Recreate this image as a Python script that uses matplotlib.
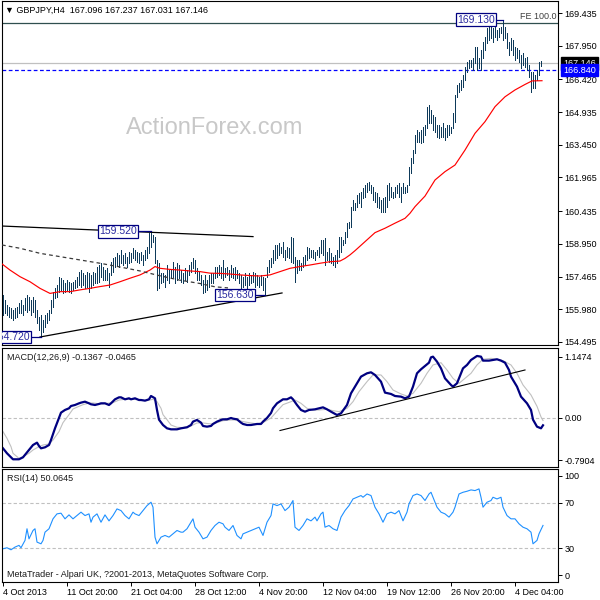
import matplotlib
matplotlib.use("Agg")
import numpy as np
import matplotlib.pyplot as plt
from matplotlib.transforms import blended_transform_factory as blend

plt.rcParams["font.family"] = ["Liberation Sans", "DejaVu Sans"]

# H4 bars, oldest first (high / low)
bar_high = [
    156.63, 156.40, 156.17, 156.10, 156.02, 155.95, 156.02, 156.10, 156.25, 156.40,
    156.17, 156.48, 156.63, 156.55, 156.40, 156.55, 156.40, 155.95, 155.64, 155.72,
    155.49, 155.72, 155.80, 155.95, 156.40, 156.78, 156.93, 157.08, 157.46, 157.39,
    157.31, 157.16, 157.31, 157.23, 157.16, 157.23, 157.31, 157.46, 157.69, 157.76,
    157.61, 157.54, 157.69, 157.61, 157.54, 157.69, 157.61, 157.92, 157.99, 158.07,
    157.92, 157.76, 157.84, 157.61, 158.14, 158.29, 158.37, 158.52, 158.45, 158.67,
    158.45, 158.52, 158.37, 158.60, 158.52, 158.75, 158.67, 158.60, 158.52, 158.60,
    158.45, 158.67, 158.82, 159.43, 159.52, 159.35, 159.28, 158.22, 158.07, 157.61,
    157.61, 157.54, 157.99, 157.76, 157.76, 158.14, 157.92, 158.07, 157.99, 157.76,
    157.61, 157.84, 157.76, 157.99, 158.14, 158.29, 158.22, 157.84, 157.69, 157.54,
    157.31, 157.54, 157.31, 157.54, 157.61, 157.61, 157.92, 157.92, 157.99, 157.92,
    158.22, 157.84, 157.92, 157.76, 157.99, 157.84, 157.92, 157.76, 157.61, 157.54,
    157.46, 157.61, 157.46, 157.61, 157.54, 157.69, 157.61, 157.54, 157.46, 157.54,
    157.46, 157.39, 157.92, 158.22, 158.29, 158.67, 158.90, 158.90, 158.97, 158.82,
    159.05, 158.67, 158.82, 158.75, 159.28, 159.20, 158.37, 158.22, 158.22, 158.07,
    158.37, 158.44, 158.82, 158.75, 158.67, 158.67, 158.60, 158.67, 158.82, 159.13,
    159.13, 159.20, 158.60, 158.75, 158.52, 158.37, 158.45, 158.67, 159.28, 159.28,
    159.13, 159.51, 159.89, 159.96, 160.64, 160.94, 160.79, 161.17, 161.25, 161.32,
    161.47, 161.62, 161.70, 161.78, 161.62, 161.55, 161.32, 161.25, 161.09, 160.94,
    161.02, 161.09, 161.62, 161.70, 161.55, 161.32, 161.55, 161.62, 161.70, 161.55,
    161.70, 161.55, 161.62, 162.46, 162.84, 163.21, 163.90, 164.12, 164.05, 164.12,
    164.27, 164.35, 165.18, 165.26, 165.03, 164.80, 164.73, 164.35, 164.35, 164.27,
    164.42, 164.20, 164.35, 164.35, 164.27, 164.88, 165.71, 166.16, 166.24, 166.39,
    166.62, 167.00, 167.22, 167.30, 167.30, 167.37, 167.90, 167.90, 167.37, 167.75,
    168.13, 168.36, 168.74, 168.97, 168.89, 168.74, 168.89, 168.66, 168.74, 168.81,
    169.13, 168.81, 168.51, 168.13, 168.28, 168.21, 167.90, 167.83, 167.75, 167.53,
    167.60, 167.37, 167.45, 167.07, 166.77, 166.77, 166.62, 166.84, 167.22, 167.237,
]
bar_low = [
    155.72, 155.80, 155.72, 155.64, 155.57, 155.49, 155.57, 155.64, 155.80, 155.80,
    155.72, 155.95, 155.87, 155.95, 155.72, 155.87, 155.64, 155.34, 155.04, 154.72,
    154.96, 155.19, 155.34, 155.49, 155.80, 156.10, 156.48, 156.55, 156.78, 156.86,
    156.70, 156.78, 156.86, 156.78, 156.70, 156.86, 156.93, 157.01, 157.08, 157.01,
    157.08, 156.93, 157.01, 156.78, 156.93, 157.08, 157.16, 157.16, 157.23, 157.46,
    157.31, 157.31, 157.31, 157.01, 157.54, 157.69, 157.92, 157.99, 157.92, 158.07,
    157.99, 158.07, 157.92, 158.07, 158.14, 158.29, 158.22, 158.14, 158.07, 158.22,
    157.99, 158.22, 158.29, 158.52, 158.82, 159.05, 158.07, 156.86, 156.93, 157.16,
    157.23, 157.01, 157.31, 157.16, 157.39, 157.46, 157.16, 157.31, 157.39, 157.23,
    157.16, 157.31, 157.23, 157.54, 157.69, 157.84, 157.61, 157.31, 157.31, 157.08,
    156.70, 156.78, 156.86, 157.01, 157.16, 157.16, 157.39, 157.46, 157.54, 157.39,
    157.31, 157.46, 157.54, 157.31, 157.46, 157.39, 157.31, 157.39, 157.16, 156.93,
    157.01, 157.08, 156.93, 157.08, 157.16, 157.23, 157.01, 157.08, 157.01, 157.08,
    156.86, 156.63, 157.46, 157.69, 157.92, 158.07, 158.22, 158.29, 158.44, 158.52,
    158.37, 158.22, 158.37, 158.29, 158.14, 158.07, 157.23, 157.61, 157.76, 157.76,
    157.92, 157.99, 158.22, 158.29, 158.37, 158.29, 158.22, 158.45, 158.37, 158.52,
    158.45, 157.99, 158.22, 158.14, 158.07, 157.99, 157.92, 158.07, 158.37, 158.60,
    158.90, 158.98, 159.28, 159.66, 159.73, 160.49, 160.49, 160.64, 160.79, 160.64,
    161.02, 161.10, 161.32, 161.40, 161.25, 160.94, 160.87, 160.64, 160.57, 160.41,
    160.41, 160.41, 160.64, 160.94, 161.09, 161.02, 161.09, 161.25, 161.09, 160.87,
    161.25, 161.25, 161.32, 161.62, 162.15, 162.61, 163.06, 163.59, 163.59, 163.52,
    163.59, 163.90, 164.20, 164.42, 164.42, 164.12, 164.05, 163.82, 163.74, 163.82,
    163.82, 163.67, 163.82, 163.89, 163.97, 164.20, 164.50, 165.63, 165.86, 165.94,
    166.09, 166.39, 166.77, 166.92, 167.00, 166.84, 167.15, 166.84, 166.92, 166.84,
    167.37, 167.75, 168.06, 168.21, 168.28, 168.13, 168.36, 168.21, 168.36, 168.51,
    168.21, 168.28, 167.83, 167.53, 167.75, 167.53, 167.30, 167.37, 167.22, 166.92,
    167.07, 167.00, 166.84, 166.54, 165.86, 166.01, 166.01, 166.39, 166.62, 167.031,
]

# moving averages (bar index, price)
ma_red = [
    (-0.5, 158.04), (3.5, 157.76), (8.5, 157.46), (13.5, 157.23), (18.5, 156.93),
    (23.5, 156.70), (28.5, 156.78), (33.5, 156.78), (38.5, 156.86), (43.5, 156.93),
    (48.5, 157.01), (53.5, 157.08), (58.5, 157.23), (63.5, 157.39), (68.5, 157.54),
    (73.5, 157.76), (76, 157.92), (78.5, 157.84), (83.5, 157.79), (88.5, 157.76),
    (93.5, 157.72), (98.5, 157.69), (103.5, 157.62), (108.5, 157.61), (113.5, 157.58),
    (118.5, 157.54), (123.5, 157.51), (128.5, 157.49), (133.5, 157.54), (138.5, 157.69),
    (143.5, 157.84), (148.5, 157.92), (153.5, 157.99), (158.5, 158.07), (163.5, 158.14),
    (168.5, 158.17), (171, 158.29), (173.5, 158.45), (176, 158.64), (181, 159.05),
    (186, 159.46), (191, 159.66), (196, 159.89), (201, 160.11), (203.5, 160.34),
    (206, 160.64), (211, 161.12), (216, 161.85), (221, 162.23), (226, 162.53),
    (231, 163.21), (236, 163.97), (241, 164.50), (246, 165.18), (251, 165.63),
    (256, 165.94), (261, 166.19), (264.5, 166.35), (269.5, 166.36),
]
ma_dash = [
    (-0.5, 158.90), (8.5, 158.75), (18.5, 158.52), (28.5, 158.37), (38.5, 158.22),
    (48.5, 158.07), (58.5, 157.90), (68.5, 157.72), (78.5, 157.50), (88.5, 157.30),
    (98.5, 157.15), (106, 157.00), (112.5, 156.95),
]

# MACD(12,26,9): main and signal (bar index, value)
macd_main = [
    (0, -0.567), (2, -0.660), (4, -0.735), (5, -0.772), (8, -0.772), (10, -0.735),
    (13, -0.598), (15, -0.505), (17, -0.461), (18, -0.523), (19, -0.567), (21, -0.548),
    (23, -0.505), (24, -0.411), (26, -0.193), (28, 0.0), (29, 0.100), (31, 0.150),
    (33, 0.181), (34, 0.224), (36, 0.243), (38, 0.274), (39, 0.287), (41, 0.305),
    (43, 0.274), (44, 0.256), (46, 0.243), (48, 0.262), (49, 0.274), (51, 0.274),
    (53, 0.243), (54, 0.274), (56, 0.349), (58, 0.386), (59, 0.386), (61, 0.349),
    (63, 0.368), (64, 0.349), (66, 0.368), (68, 0.336), (69, 0.336), (71, 0.324),
    (73, 0.349), (74, 0.411), (76, 0.368), (77, 0.150), (78, -0.031), (80, -0.131),
    (82, -0.193), (84, -0.212), (87, -0.212), (89, -0.193), (92, -0.174), (94, -0.131),
    (95, -0.068), (97, -0.037), (99, -0.087), (100, -0.149), (102, -0.162), (104, -0.149),
    (105, -0.112), (107, -0.068), (109, -0.037), (110, -0.025), (112, -0.025), (114, 0.0),
    (115, -0.012), (117, -0.025), (119, -0.087), (120, -0.112), (122, -0.131), (124, -0.131),
    (127, -0.112), (129, -0.112), (130, -0.068), (132, 0.0), (134, 0.093), (135, 0.181),
    (137, 0.274), (139, 0.324), (140, 0.349), (142, 0.349), (144, 0.386), (145, 0.349),
    (147, 0.243), (149, 0.150), (151, 0.118), (153, 0.150), (156, 0.162), (158, 0.181),
    (160, 0.199), (162, 0.162), (164, 0.118), (167, 0.056), (169, 0.087), (172, 0.243),
    (174, 0.461), (177, 0.648), (179, 0.773), (182, 0.835), (184, 0.854), (186, 0.804),
    (189, 0.679), (191, 0.474), (194, 0.449), (196, 0.411), (199, 0.399), (201, 0.368),
    (203, 0.399), (205, 0.586), (207, 0.835), (209, 0.910), (211, 0.972), (213, 1.034),
    (214, 1.134), (215, 1.146), (217, 1.053), (219, 0.928), (221, 0.741), (224, 0.617),
    (225, 0.586), (227, 0.648), (229, 0.835), (230, 0.928), (232, 0.991), (234, 1.084),
    (237, 1.159), (239, 1.146), (240, 1.072), (243, 1.072), (245, 1.084), (247, 1.097),
    (249, 1.072), (251, 1.034), (253, 0.897), (254, 0.773), (257, 0.586), (259, 0.399),
    (262, 0.274), (264, 0.150), (265, -0.031), (267, -0.162), (269, -0.193), (270, -0.1367),
]
macd_signal = [
    (0, -0.255), (2, -0.380), (4, -0.536), (5, -0.660), (8, -0.754), (10, -0.723),
    (13, -0.660), (15, -0.598), (18, -0.536), (20, -0.505), (23, -0.486), (25, -0.411),
    (28, -0.255), (30, -0.087), (33, 0.062), (35, 0.168), (38, 0.218), (40, 0.249),
    (43, 0.280), (45, 0.280), (49, 0.262), (52, 0.274), (55, 0.287), (58, 0.336),
    (62, 0.355), (65, 0.349), (69, 0.336), (72, 0.324), (75, 0.349), (77, 0.305),
    (79, 0.181), (80, 0.062), (82, -0.031), (84, -0.131), (87, -0.174), (90, -0.180),
    (94, -0.149), (97, -0.093), (100, -0.093), (104, -0.112), (107, -0.087), (110, -0.050),
    (114, -0.037), (117, -0.037), (120, -0.068), (124, -0.093), (127, -0.112), (130, -0.087),
    (134, 0.0), (137, 0.125), (140, 0.249), (144, 0.305), (146, 0.336), (149, 0.274),
    (152, 0.181), (155, 0.150), (158, 0.150), (162, 0.162), (165, 0.137), (168, 0.118),
    (172, 0.181), (175, 0.305), (178, 0.492), (182, 0.679), (185, 0.804), (189, 0.804),
    (192, 0.679), (195, 0.523), (199, 0.449), (202, 0.411), (205, 0.461), (209, 0.648),
    (212, 0.835), (215, 0.991), (219, 1.034), (222, 0.897), (225, 0.741), (228, 0.648),
    (230, 0.710), (234, 0.835), (237, 0.991), (240, 1.097), (244, 1.115), (247, 1.097),
    (250, 1.072), (254, 0.991), (257, 0.835), (260, 0.617), (264, 0.430), (267, 0.218),
    (269, 0.020), (270, -0.0465),
]

# RSI(14) (bar index, value)
rsi = [
    (0, 29.4), (2, 30.3), (4, 28.5), (6, 30.9), (8, 32.4), (9, 30.3), (11, 36.8), (12, 47.1),
    (13, 38.2), (15, 45.6), (16, 47.1), (17, 35.3), (19, 33.8), (20, 36.8), (21, 44.1),
    (23, 47.1), (25, 55.9), (27, 60.3), (29, 60.9), (31, 55.9), (33, 59.4), (35, 55.9),
    (37, 58.8), (39, 61.8), (41, 58.8), (43, 60.3), (44, 52.9), (45, 57.4), (47, 60.3),
    (49, 52.9), (51, 59.4), (53, 54.1), (55, 58.8), (57, 64.7), (59, 63.2), (61, 58.8),
    (63, 55.9), (65, 61.8), (66, 60.3), (68, 58.8), (70, 63.2), (72, 67.6), (74, 70.6),
    (75, 66.2), (76, 39.7), (77, 33.8), (79, 39.7), (81, 41.2), (83, 39.7), (85, 42.6),
    (87, 45.6), (89, 44.1), (90, 44.1), (92, 47.1), (94, 52.9), (95, 55.9), (96, 48.5),
    (98, 44.1), (100, 38.2), (102, 39.7), (104, 45.6), (106, 50.0), (108, 52.9), (110, 51.5),
    (111, 48.5), (113, 45.6), (115, 50.0), (117, 41.2), (119, 38.2), (120, 42.6), (122, 44.1),
    (124, 45.6), (126, 47.1), (128, 48.5), (130, 41.2), (132, 52.9), (134, 58.8), (135, 69.1),
    (137, 67.6), (139, 69.1), (141, 63.2), (143, 66.2), (145, 72.1), (146, 48.5), (148, 45.6),
    (150, 50.0), (152, 55.9), (154, 54.1), (156, 57.4), (157, 54.1), (159, 60.3), (160, 61.8),
    (161, 48.5), (163, 50.0), (165, 47.1), (167, 45.6), (169, 57.4), (171, 63.2), (173, 67.6),
    (175, 73.5), (177, 75.0), (179, 76.5), (180, 75.0), (182, 77.9), (184, 76.5), (186, 66.2),
    (188, 60.3), (190, 52.9), (192, 60.3), (194, 61.8), (196, 60.3), (198, 63.2), (200, 54.1),
    (202, 61.8), (203, 69.1), (205, 76.5), (207, 77.9), (209, 76.5), (211, 72.1), (213, 77.9),
    (214, 79.4), (215, 75.0), (217, 66.2), (219, 61.8), (221, 60.3), (223, 57.4), (225, 61.8),
    (226, 66.2), (228, 77.9), (230, 79.4), (232, 80.3), (234, 81.5), (236, 80.9), (238, 82.4),
    (239, 75.0), (240, 66.2), (242, 70.6), (244, 72.1), (245, 75.0), (247, 73.5), (249, 75.0),
    (250, 66.2), (252, 58.8), (254, 55.9), (256, 55.9), (258, 51.5), (260, 48.5), (262, 47.1),
    (264, 44.1), (265, 33.8), (267, 36.8), (268, 42.6), (270, 50.0645),
]

# drawn objects
upper_line = [(-0.5, 159.76), (125, 159.28)]
lower_line = [(18.5, 154.72), (139.5, 156.72)]
macd_line = [(138.5, -0.234), (261, 0.897)]
# (label, price, bar of the swing, bar where the box ends)
swing_labels = [("159.520", 159.52, 74, 67.5), ("156.630", 156.63, 131, 126),
                ("154.720", 154.72, 19, 14), ("169.130", 169.13, 250, 246.5)]
fe_level = 168.98
bid, ask_line = 167.146, 166.840

price_ticks = [169.435, 167.950, 166.420, 164.935, 163.450, 161.965,
               160.435, 158.950, 157.465, 155.980, 154.495]
macd_ticks = [1.1474, 0.0, -0.7904]
macd_tick_labels = ["1.1474", "0.00", "-0.7904"]
date_ticks = [0, 32, 64, 96, 128, 160, 192, 224, 256]
date_labels = ["4 Oct 2013", "11 Oct 20:00", "21 Oct 04:00", "28 Oct 12:00",
               "4 Nov 20:00", "12 Nov 04:00", "19 Nov 12:00", "26 Nov 20:00",
               "4 Dec 04:00"]

FS = 6.5


def panel(top, bottom):
    return [2 / 600, 1 - bottom / 600, 556 / 600, (bottom - top) / 600]


def style(ax):
    for s in ax.spines.values():
        s.set_linewidth(0.8)
        s.set_color("black")
    ax.set_xlim(-0.5, 277.5)
    ax.yaxis.tick_right()
    ax.tick_params(axis="y", length=3, width=0.7, pad=1.5, labelsize=FS, direction="out")
    ax.tick_params(axis="x", bottom=False, labelbottom=False)


fig = plt.figure(figsize=(6, 6), dpi=100)
ax = fig.add_axes(panel(1, 345))
ax2 = fig.add_axes(panel(348, 467))
ax3 = fig.add_axes(panel(469, 582))
for a in (ax, ax2, ax3):
    style(a)

# ---- price panel
x = np.arange(len(bar_high))
ax.set_ylim(154.357, 169.98)
ax.text(0.383, 0.631, "ActionForex.com", transform=ax.transAxes, ha="center", va="center",
        fontsize=17, color="#c8c8c8", zorder=0)
ax.axhline(bid, color="#c0c0c0", lw=0.9, zorder=1)
ax.axhline(ask_line, color="#0000ff", lw=0.9, dashes=(3, 2), zorder=1)
ax.axhline(fe_level, color="#2f4f4f", lw=0.9, zorder=1)
ax.text(0.997, fe_level + 0.08, "FE 100.0", transform=blend(ax.transAxes, ax.transData),
        ha="right", va="bottom", fontsize=FS, color="#404040")
ax.vlines(x, bar_low, bar_high, colors="#0e3a5a", lw=0.5, antialiased=False, zorder=3)
ax.plot(*zip(*ma_red), color="#ff0000", lw=0.85, zorder=4)
ax.plot(*zip(*ma_dash), color="#3a3a3a", lw=0.9, dashes=(3, 2.5), zorder=4)
ax.plot(*zip(*upper_line), color="black", lw=0.9, zorder=5)
ax.plot(*zip(*lower_line), color="black", lw=0.9, zorder=5)
for txt, p, bar, edge in swing_labels:
    ax.plot([edge, bar], [p, p], color="#000080", lw=0.9, zorder=5)
    ax.text(edge - 0.6, p, txt, ha="right", va="center", fontsize=7.5, color="#2a2aa0",
            zorder=6, clip_on=True,
            bbox=dict(boxstyle="square,pad=0.12", fc="white", ec="#000080", lw=0.9))
ax.set_yticks(price_ticks)
ax.set_yticklabels(["%.3f" % t for t in price_ticks])
tr = blend(ax.transAxes, ax.transData)
ax.text(1.009, bid, "%.3f" % bid, transform=tr, ha="left", va="center", fontsize=FS,
        color="white", bbox=dict(boxstyle="square,pad=0.2", fc="black", ec="black"), clip_on=False)
ax.text(1.009, ask_line, "%.3f" % ask_line, transform=tr, ha="left", va="center", fontsize=FS,
        color="white", bbox=dict(boxstyle="square,pad=0.2", fc="#0000ff", ec="#0000ff"), clip_on=False)
ax.text(0.006, 0.974, "\u25bc GBPJPY,H4  167.096 167.237 167.031 167.146", transform=ax.transAxes,
        ha="left", va="center", fontsize=FS, color="black")

# ---- MACD panel
ax2.set_ylim(-0.916, 1.308)
ax2.axhline(0, color="#c0c0c0", lw=0.8, dashes=(3, 2))
ax2.plot(*zip(*macd_signal), color="#c0c0c0", lw=0.8)
ax2.plot(*zip(*macd_main), color="#000080", lw=1.6)
ax2.plot(*zip(*macd_line), color="black", lw=0.8)
ax2.set_yticks(macd_ticks)
ax2.set_yticklabels(macd_tick_labels)
ax2.text(0.009, 0.924, "MACD(12,26,9) -0.1367 -0.0465", transform=ax2.transAxes,
         ha="left", va="center", fontsize=FS, color="#1a1a1a")

# ---- RSI panel
ax3.set_ylim(0, 100)
for lv in (70, 30):
    ax3.axhline(lv, color="#c0c0c0", lw=0.8, dashes=(3, 2))
ax3.plot(*zip(*rsi), color="#1e90ff", lw=0.8)
ax3.set_yticks([94, 70, 30, 6])
ax3.set_yticklabels(["100", "70", "30", "0"])
ax3.text(0.009, 0.92, "RSI(14) 50.0645", transform=ax3.transAxes,
         ha="left", va="center", fontsize=FS, color="#1a1a1a")
ax3.text(0.009, 0.062, "MetaTrader - Alpari UK, ?2001-2013, MetaQuotes Software Corp.",
         transform=ax3.transAxes, ha="left", va="center", fontsize=FS, color="#1a1a1a")
ax3.tick_params(axis="x", bottom=True, labelbottom=True, length=3, width=0.7, pad=1,
                labelsize=FS, direction="out")
ax3.set_xticks(date_ticks)
ax3.set_xticklabels(date_labels, ha="left")

fig.savefig("out.png", dpi=100, facecolor="white")
